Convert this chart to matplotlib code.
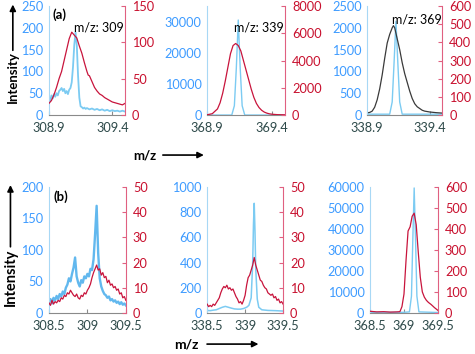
import matplotlib
matplotlib.use('Agg')
import matplotlib.pyplot as plt

plt.rcParams['font.family'] = ['Lato', 'DejaVu Sans']

BLUE_TXT = '#3d9bff'
RED_TXT = '#c8102e'
BLUE_LINE = '#7ccbf2'
RED_LINE = '#c8143c'
DARK_LINE = '#3a3a3a'
X_TXT = '#2e4a4a'
TICK_FS = 9.2

# ---- top row (a) ----
a1_x_blue = [308.90, 308.91, 308.92, 308.93, 308.94, 308.95, 308.96, 308.97, 308.98, 308.99,
             309.00, 309.01, 309.02, 309.03, 309.04, 309.05, 309.06, 309.07, 309.08, 309.09,
             309.10, 309.11, 309.12, 309.13, 309.14, 309.15, 309.16, 309.17, 309.18, 309.19,
             309.20, 309.22, 309.24, 309.26, 309.28, 309.30, 309.32, 309.34, 309.36, 309.38,
             309.40, 309.42, 309.44, 309.46, 309.48, 309.50]
a1_blue = [40, 32, 45, 38, 48, 42, 50, 45, 55, 58,
           62, 55, 60, 50, 55, 48, 58, 62, 75, 110,
           160, 190, 160, 90, 40, 20, 18, 15, 17, 14,
           16, 13, 15, 12, 14, 11, 13, 10, 12, 9,
           11, 9, 10, 8, 10, 8]
a1_x_red = [308.90, 308.92, 308.94, 308.96, 308.98, 309.00, 309.02, 309.04, 309.06, 309.08,
            309.10, 309.12, 309.14, 309.16, 309.18, 309.20, 309.21, 309.22, 309.24, 309.26,
            309.28, 309.30, 309.32, 309.34, 309.36, 309.38, 309.40, 309.42, 309.44, 309.46,
            309.48, 309.50]
a1_red = [16, 20, 28, 38, 50, 60, 75, 90, 105, 114,
          110, 106, 95, 85, 72, 60, 55, 54, 46, 38,
          33, 29, 27, 24, 22, 20, 18, 17, 16, 15,
          14, 16]

a2_x_blue = [368.90, 369.09, 369.11, 369.125, 369.14, 369.155, 369.17, 369.19, 369.50]
a2_blue = [0, 0, 3000, 15000, 30500, 15000, 3000, 0, 0]
a2_x_red = [368.90, 368.94, 368.98, 369.00, 369.02, 369.04, 369.06, 369.08, 369.10, 369.12,
            369.14, 369.16, 369.18, 369.20, 369.22, 369.24, 369.26, 369.28, 369.30, 369.32,
            369.34, 369.36, 369.38, 369.40, 369.44, 369.50]
a2_red = [20, 100, 450, 900, 1600, 2500, 3500, 4500, 5100, 5250,
          5100, 4700, 4000, 3300, 2600, 1900, 1300, 850, 550, 350,
          220, 140, 90, 60, 30, 15]

a3_x_blue = [338.90, 339.08, 339.10, 339.115, 339.13, 339.145, 339.16, 339.18, 339.50]
a3_blue = [20, 20, 300, 1200, 2150, 1200, 300, 20, 20]
a3_x_dark = [338.90, 338.92, 338.94, 338.96, 338.98, 339.00, 339.02, 339.04, 339.06, 339.08,
             339.10, 339.11, 339.12, 339.14, 339.16, 339.18, 339.20, 339.22, 339.24, 339.26,
             339.28, 339.30, 339.32, 339.34, 339.36, 339.40, 339.45, 339.50]
a3_dark = [50, 60, 90, 180, 350, 600, 920, 1300, 1650, 1850,
           2000, 2050, 2000, 1750, 1500, 1200, 950, 750, 550, 380,
           260, 190, 150, 110, 90, 70, 55, 45]

# ---- bottom row (b) ----
b1_x = [308.50, 308.52, 308.54, 308.56, 308.58, 308.60, 308.62, 308.64, 308.66, 308.68,
        308.70, 308.72, 308.74, 308.76, 308.78, 308.80, 308.82, 308.84, 308.86, 308.88,
        308.90, 308.92, 308.94, 308.96, 308.98, 309.00, 309.02, 309.04, 309.06, 309.08,
        309.10, 309.12, 309.14, 309.16, 309.18, 309.20, 309.22, 309.24, 309.26, 309.28,
        309.30, 309.32, 309.34, 309.36, 309.38, 309.40, 309.42, 309.44, 309.46, 309.48,
        309.50]
b1_blue = [18, 22, 15, 24, 20, 27, 22, 30, 26, 34,
           30, 40, 45, 55, 50, 62, 72, 88, 58, 48,
           42, 52, 48, 58, 55, 62, 58, 70, 68, 85,
           125, 170, 95, 55, 42, 35, 30, 28, 24, 26,
           20, 22, 18, 20, 16, 18, 14, 17, 13, 15,
           12]
b1_red = [4, 3, 5, 3.5, 4.5, 4, 5, 4.5, 6, 5.5,
          7, 6.5, 8, 7.5, 9, 8, 7, 6.5, 7.5, 6,
          5.5, 7, 6.5, 8, 7.5, 9, 10, 11.5, 14, 16,
          17.5, 19, 17, 17.5, 15, 16, 14, 14.5, 12, 13,
          11, 11.5, 10, 10.5, 9, 9.5, 7.5, 8, 6, 6.5,
          5]

b2_x_blue = [338.50, 338.54, 338.58, 338.62, 338.66, 338.70, 338.74, 338.78, 338.82, 338.86,
             338.90, 338.94, 338.98, 339.02, 339.05, 339.08, 339.10, 339.11, 339.12, 339.13,
             339.14, 339.16, 339.18, 339.22, 339.30, 339.40, 339.50]
b2_blue = [20, 18, 22, 25, 35, 45, 52, 45, 38, 32,
           30, 30, 35, 45, 60, 120, 400, 700, 870, 650,
           350, 110, 45, 25, 20, 18, 15]
b2_x_red = [338.50, 338.52, 338.54, 338.56, 338.58, 338.60, 338.62, 338.64, 338.66, 338.68,
            338.70, 338.72, 338.74, 338.76, 338.78, 338.80, 338.82, 338.84, 338.86, 338.88,
            338.90, 338.92, 338.94, 338.96, 338.98, 339.00, 339.02, 339.04, 339.06, 339.08,
            339.10, 339.12, 339.14, 339.16, 339.18, 339.20, 339.22, 339.24, 339.26, 339.28,
            339.30, 339.32, 339.34, 339.36, 339.38, 339.40, 339.42, 339.44, 339.46, 339.48,
            339.50]
b2_red = [3.5, 2.5, 3, 2.5, 3.5, 3, 4, 5, 6, 8,
          9.5, 10.5, 10, 11, 9.5, 10, 9, 9.5, 8, 6.5,
          5.5, 4, 4.5, 3.5, 5, 7, 11, 14, 15, 17,
          19, 22, 19, 17, 15, 13, 12.5, 11, 10, 9.5,
          8, 7.5, 7, 7.5, 6, 6.5, 5, 5.5, 4, 4.5,
          3.5]

b3_x_blue = [368.50, 369.00, 369.08, 369.11, 369.13, 369.15, 369.17, 369.19, 369.22, 369.50]
b3_blue = [300, 300, 500, 8000, 35000, 59500, 35000, 8000, 500, 200]
b3_x_red = [368.50, 368.60, 368.70, 368.80, 368.90, 368.94, 368.97, 369.00, 369.03, 369.06,
            369.09, 369.12, 369.15, 369.18, 369.21, 369.24, 369.27, 369.30, 369.33, 369.36,
            369.40, 369.45, 369.50]
b3_red = [8, 5, 6, 4, 5, 6, 30, 90, 250, 390,
          410, 460, 475, 420, 290, 170, 100, 75, 60, 50,
          40, 25, 12]


def panel(rect, xlim, xticks, xlabels, ylim_l, yticks_l, ylim_r, yticks_r):
    ax = fig.add_axes(rect)
    ax2 = ax.twinx()
    ax.set_xlim(*xlim)
    ax.set_xticks(xticks)
    ax.set_xticklabels(xlabels)
    ax.set_ylim(*ylim_l)
    ax.set_yticks(yticks_l)
    ax2.set_ylim(*ylim_r)
    ax2.set_yticks(yticks_r)
    for a in (ax, ax2):
        a.spines['top'].set_visible(False)
        a.patch.set_visible(False)
    ax.spines['right'].set_visible(False)
    ax2.spines['left'].set_visible(False)
    ax2.spines['bottom'].set_visible(False)
    ax.spines['left'].set_color('#a8d8f5')
    ax.spines['bottom'].set_color('#8a8a8a')
    ax2.spines['right'].set_color('#e06080')
    ax.tick_params(axis='y', length=0, labelsize=TICK_FS, labelcolor=BLUE_TXT, pad=4)
    ax.tick_params(axis='x', direction='in', length=3, color='#8a8a8a',
                   labelsize=TICK_FS, labelcolor=X_TXT, pad=5)
    ax2.tick_params(axis='y', direction='in', length=3, color='#e06080',
                    labelsize=TICK_FS, labelcolor=RED_TXT, pad=5)
    return ax, ax2


fig = plt.figure(figsize=(4.75, 3.54), dpi=100)

# (a) panels
ax, ax2 = panel([0.103, 0.675, 0.160, 0.308], (308.9, 309.5), [308.9, 309.4], ['308.9', '309.4'],
                (0, 250), [0, 50, 100, 150, 200, 250], (0, 150), [0, 50, 100, 150])
ax.plot(a1_x_blue, a1_blue, color=BLUE_LINE, lw=1.3)
ax2.plot(a1_x_red, a1_red, color=RED_LINE, lw=0.9)
ax.text(0.05, 0.92, '(a)', transform=ax.transAxes, fontsize=9.5, fontweight='bold', va='center')
ax.text(0.99, 0.80, 'm/z: 309', transform=ax.transAxes, fontsize=9, ha='right', va='center')

ax, ax2 = panel([0.436, 0.675, 0.164, 0.308], (368.9, 369.5), [368.9, 369.4], ['368.9', '369.4'],
                (0, 35000), [0, 10000, 20000, 30000], (0, 8000), [0, 2000, 4000, 6000, 8000])
ax.plot(a2_x_blue, a2_blue, color=BLUE_LINE, lw=1.0)
ax2.plot(a2_x_red, a2_red, color=RED_LINE, lw=0.9)
ax.text(0.99, 0.80, 'm/z: 339', transform=ax.transAxes, fontsize=9, ha='right', va='center')

ax, ax2 = panel([0.773, 0.675, 0.158, 0.308], (338.9, 339.5), [338.9, 339.4], ['338.9', '339.4'],
                (0, 2500), [0, 500, 1000, 1500, 2000, 2500], (0, 600), [0, 100, 200, 300, 400, 500, 600])
ax.plot(a3_x_blue, a3_blue, color=BLUE_LINE, lw=1.0)
ax.plot(a3_x_dark, a3_dark, color=DARK_LINE, lw=0.9)
ax.text(0.99, 0.88, 'm/z: 369', transform=ax.transAxes, fontsize=9, ha='right', va='center')

# (b) panels
ax, ax2 = panel([0.103, 0.116, 0.162, 0.356], (308.5, 309.5), [308.5, 309, 309.5], ['308.5', '309', '309.5'],
                (0, 200), [0, 50, 100, 150, 200], (0, 50), [0, 10, 20, 30, 40, 50])
ax.plot(b1_x, b1_blue, color='#62b8ee', lw=1.7)
ax2.plot(b1_x, b1_red, color=RED_LINE, lw=0.9)
ax.text(0.06, 0.92, '(b)', transform=ax.transAxes, fontsize=9.5, fontweight='bold', va='center')

ax, ax2 = panel([0.436, 0.116, 0.160, 0.356], (338.5, 339.5), [338.5, 339, 339.5], ['338.5', '339', '339.5'],
                (0, 1000), [0, 200, 400, 600, 800, 1000], (0, 50), [0, 10, 20, 30, 40, 50])
ax.plot(b2_x_blue, b2_blue, color=BLUE_LINE, lw=1.1)
ax2.plot(b2_x_red, b2_red, color=RED_LINE, lw=0.9)

ax, ax2 = panel([0.779, 0.116, 0.143, 0.356], (368.5, 369.5), [368.5, 369, 369.5], ['368.5', '369', '369.5'],
                (0, 60000), [0, 10000, 20000, 30000, 40000, 50000, 60000], (0, 600), [0, 100, 200, 300, 400, 500, 600])
ax.plot(b3_x_blue, b3_blue, color=BLUE_LINE, lw=1.0)
ax2.plot(b3_x_red, b3_red, color=RED_LINE, lw=0.9)

# axis titles with arrows, drawn on a transparent overlay axes
ov = fig.add_axes([0, 0, 1, 1])
ov.set_xlim(0, 1)
ov.set_ylim(0, 1)
ov.axis('off')
arrow = dict(arrowstyle='-|>', color='black', lw=1.2, mutation_scale=9)

ov.text(0.027, 0.782, 'Intensity', rotation=90, fontsize=9.5, fontweight='bold', ha='center', va='center')
ov.annotate('', xy=(0.027, 0.995), xytext=(0.027, 0.85), arrowprops=arrow)
ov.text(0.305, 0.562, 'm/z', fontsize=9.5, fontweight='bold', ha='center', va='center')
ov.annotate('', xy=(0.435, 0.562), xytext=(0.337, 0.562), arrowprops=arrow)

ov.text(0.022, 0.216, 'Intensity', rotation=90, fontsize=10.5, fontweight='bold', ha='center', va='center')
ov.annotate('', xy=(0.022, 0.485), xytext=(0.022, 0.295), arrowprops=arrow)
ov.text(0.392, 0.028, 'm/z', fontsize=10, fontweight='bold', ha='center', va='center')
ov.annotate('', xy=(0.55, 0.028), xytext=(0.43, 0.028), arrowprops=arrow)

fig.savefig('out.png', dpi=100)
